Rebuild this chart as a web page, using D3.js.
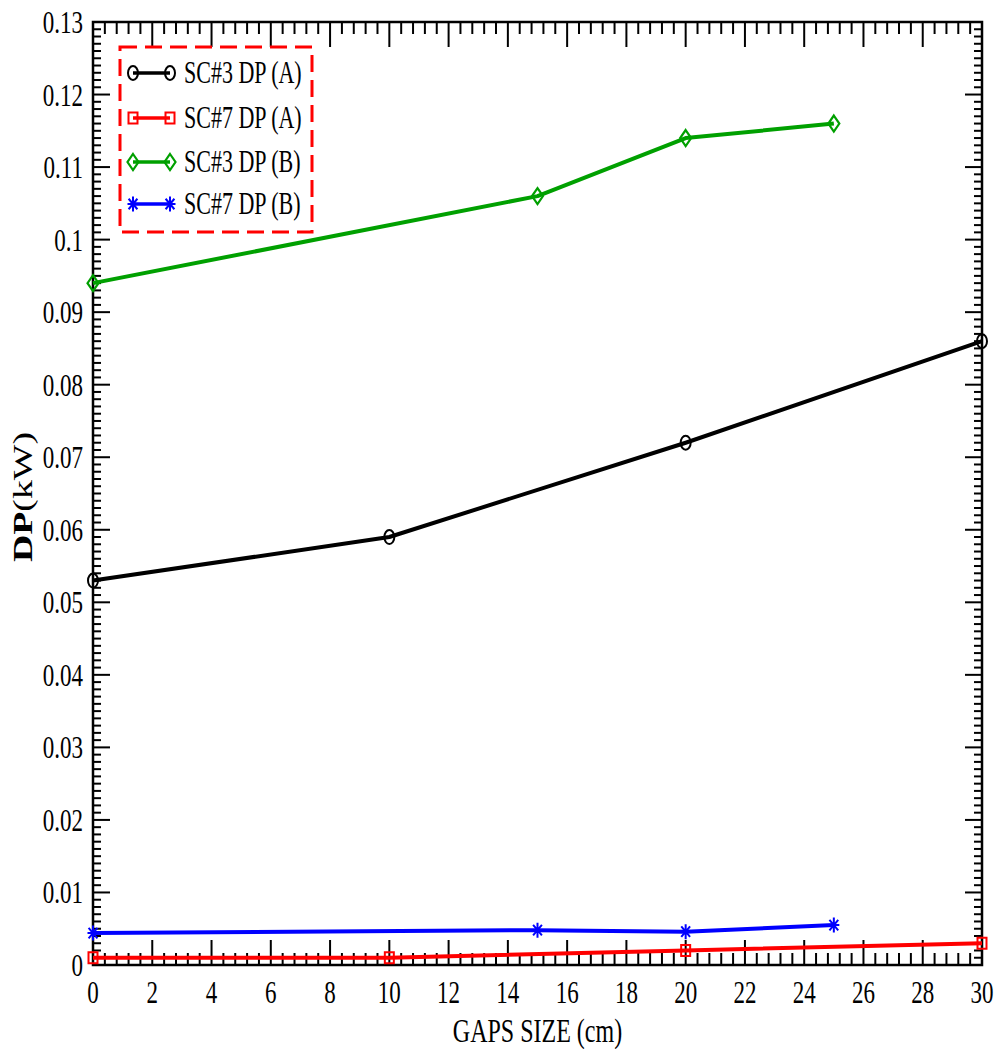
<!DOCTYPE html>
<html>
<head>
<meta charset="utf-8">
<script src="https://cdn.jsdelivr.net/npm/d3@7"></script>
<style>
  html, body { margin: 0; padding: 0; background: #fff; }
  svg { display: block; }
  text { font-family: "Liberation Serif", "Times New Roman", serif; fill: #000; }
</style>
</head>
<body>
<svg id="chart" width="995" height="1049"></svg>
<script>
// ---- data ----
const gapsA = [0, 10, 20, 30];
const gapsB = [0, 15, 20, 25];
const sc3A = [0.053, 0.059, 0.072, 0.086];
const sc7A = [0.001, 0.001, 0.002, 0.003];
const sc3B = [0.094, 0.106, 0.114, 0.116];
const sc7B = [0.0044, 0.0048, 0.0046, 0.0055];
const seriesNames = ["SC#3 DP (A)", "SC#7 DP (A)", "SC#3 DP (B)", "SC#7 DP (B)"];
const xTickValues = [0, 2, 4, 6, 8, 10, 12, 14, 16, 18, 20, 22, 24, 26, 28, 30];
const yTickValues = [0, 0.01, 0.02, 0.03, 0.04, 0.05, 0.06, 0.07, 0.08, 0.09, 0.1, 0.11, 0.12, 0.13];
const yTickLabels = ["0", "0.01", "0.02", "0.03", "0.04", "0.05", "0.06", "0.07", "0.08", "0.09", "0.1", "0.11", "0.12", "0.13"];
const xTitle = "GAPS SIZE (cm)";

// ---- layout ----
const L = 93, R = 982, T = 22, B = 965;
const S = 1.4; // vertical text stretch
const svg = d3.select("#chart");
const x = d3.scaleLinear().domain([0, 30]).range([L, R]);
const y = d3.scaleLinear().domain([0, 0.13]).range([B, T]);

const series = [
  {name: seriesNames[0], xs: gapsA, ys: sc3A, color: "#000000", marker: "circle"},
  {name: seriesNames[1], xs: gapsA, ys: sc7A, color: "#ff0000", marker: "square"},
  {name: seriesNames[2], xs: gapsB, ys: sc3B, color: "#00a000", marker: "diamond"},
  {name: seriesNames[3], xs: gapsB, ys: sc7B, color: "#0000ff", marker: "star"}
];

// ---- ticks ----
const tg = svg.append("g").attr("stroke", "#000").attr("stroke-width", 2);
const xMinor = d3.range(0, 30.001, 0.4);
const yMinor = d3.range(0, 0.13001, 0.001);
xMinor.forEach(v => {
  const len = Math.abs(v / 2 - Math.round(v / 2)) < 1e-6 ? 25 : 12;
  tg.append("line").attr("x1", x(v)).attr("x2", x(v)).attr("y1", B).attr("y2", B - len);
  tg.append("line").attr("x1", x(v)).attr("x2", x(v)).attr("y1", T).attr("y2", T + len);
});
yMinor.forEach(v => {
  const len = Math.abs(v * 100 - Math.round(v * 100)) < 1e-6 ? 17 : 8;
  tg.append("line").attr("y1", y(v)).attr("y2", y(v)).attr("x1", L).attr("x2", L + len);
  tg.append("line").attr("y1", y(v)).attr("y2", y(v)).attr("x1", R).attr("x2", R - len);
});

// frame
svg.append("rect").attr("x", L).attr("y", T).attr("width", R - L).attr("height", B - T)
  .attr("fill", "none").attr("stroke", "#000").attr("stroke-width", 2.5);

// tick labels
xTickValues.forEach(v => {
  svg.append("text").attr("transform", `translate(${x(v)},1003) scale(1,${S})`)
    .attr("text-anchor", "middle").attr("font-size", 23).text(v);
});
yTickValues.forEach((v, i) => {
  svg.append("text").attr("transform", `translate(83,${y(v) + 11}) scale(1,${S})`)
    .attr("text-anchor", "end").attr("font-size", 23).text(yTickLabels[i]);
});

// axis titles
svg.append("text").attr("transform", `translate(${(L + R) / 2},1042) scale(1,${S})`)
  .attr("text-anchor", "middle").attr("font-size", 24).text(xTitle);
const yt = svg.append("text").attr("transform", `translate(32,497) rotate(-90) scale(${S},1)`)
  .attr("text-anchor", "middle").attr("font-size", 27);
yt.append("tspan").attr("font-weight", "bold").text("DP");
yt.append("tspan").text("(kW)");

// ---- markers ----
function drawMarker(g, type, cx, cy, color) {
  if (type === "circle") {
    g.append("ellipse").attr("cx", cx).attr("cy", cy).attr("rx", 5).attr("ry", 7)
      .attr("fill", "none").attr("stroke", color).attr("stroke-width", 2);
  } else if (type === "square") {
    g.append("rect").attr("x", cx - 4.5).attr("y", cy - 5.5).attr("width", 9).attr("height", 11)
      .attr("fill", "none").attr("stroke", color).attr("stroke-width", 2);
  } else if (type === "diamond") {
    g.append("path").attr("d", `M${cx},${cy - 8} L${cx + 5.5},${cy} L${cx},${cy + 8} L${cx - 5.5},${cy} Z`)
      .attr("fill", "none").attr("stroke", color).attr("stroke-width", 2.2);
  } else if (type === "star") {
    const rx = 5.5, ry = 7.5;
    let d = `M${cx},${cy - ry} L${cx},${cy + ry} M${cx - rx},${cy} L${cx + rx},${cy}`;
    d += ` M${cx - rx * 0.8},${cy - ry * 0.7} L${cx + rx * 0.8},${cy + ry * 0.7} M${cx - rx * 0.8},${cy + ry * 0.7} L${cx + rx * 0.8},${cy - ry * 0.7}`;
    g.append("path").attr("d", d).attr("stroke", color).attr("stroke-width", 2).attr("fill", "none");
  }
}

// ---- lines ----
const line = d3.line().x(d => x(d[0])).y(d => y(d[1]));
series.forEach(s => {
  const pts = s.xs.map((v, i) => [v, s.ys[i]]);
  svg.append("path").datum(pts).attr("d", line).attr("fill", "none")
    .attr("stroke", s.color).attr("stroke-width", 4).attr("stroke-linejoin", "round");
  const g = svg.append("g");
  pts.forEach(p => drawMarker(g, s.marker, x(p[0]), y(p[1]), s.color));
});

// ---- legend ----
svg.append("rect").attr("x", 120).attr("y", 47).attr("width", 192).attr("height", 185)
  .attr("fill", "#fff").attr("stroke", "#ff0000").attr("stroke-width", 3)
  .attr("stroke-dasharray", "17,8");
const rowY = [73, 118, 162, 204];
series.forEach((s, i) => {
  const g = svg.append("g");
  g.append("line").attr("x1", 133).attr("x2", 170).attr("y1", rowY[i]).attr("y2", rowY[i])
    .attr("stroke", s.color).attr("stroke-width", 3.5);
  drawMarker(g, s.marker, 133, rowY[i], s.color);
  drawMarker(g, s.marker, 170, rowY[i], s.color);
  g.append("text").attr("transform", `translate(184,${rowY[i] + 10}) scale(1,${S})`)
    .attr("font-size", 22).text(s.name);
});
</script>
</body>
</html>
